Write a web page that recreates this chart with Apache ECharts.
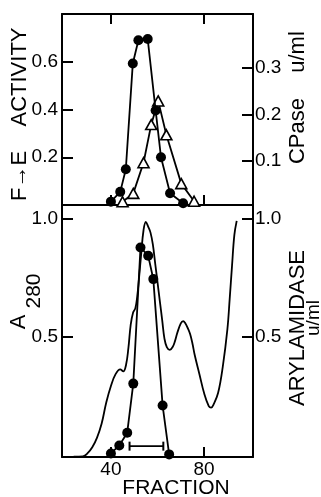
<!DOCTYPE html>
<html>
<head>
<meta charset="utf-8">
<script src="https://cdn.jsdelivr.net/npm/echarts@6/dist/echarts.min.js"></script>
<style>
html,body{margin:0;padding:0;background:#fff;}
#chart{width:321px;height:497px;}
</style>
</head>
<body>
<div id="chart"></div>
<script>
// ---- data ----
const fractionTicks = [40, 80];
const activityTicks = [0.2, 0.4, 0.6];
const cpaseTicks = [0.1, 0.2, 0.3];
const a280Ticks = [0.5, 1.0];
const arylTicks = [0.5, 1.0];

// top panel: F->E activity (filled circles, left axis)
const feActivity = [[40,0.014],[44,0.055],[46.4,0.15],[49.4,0.593],[51.8,0.69],[55.8,0.695],[59.2,0.396],[61.5,0.20],[65.4,0.049],[71,0.007]];
// top panel: CPase u/ml (open triangles, right axis)
const cpase = [[45,0.012],[49.6,0.03],[54,0.096],[57.3,0.178],[60.3,0.229],[63.8,0.156],[70.2,0.051],[75.7,0.013]];
// bottom panel: A280 trace (left axis)
const a280 = [[24,-0.01],[28,-0.008],[30,0.005],[32,0.03],[34,0.07],[36,0.13],[38,0.22],[40,0.29],[42,0.34],[44,0.36],[45.3,0.352],[46.5,0.38],[47.5,0.45],[48.5,0.55],[49.5,0.60],[50.5,0.62],[51.3,0.67],[52,0.74],[53,0.85],[54,0.95],[55,0.985],[56,0.965],[57,0.94],[58,0.89],[59,0.81],[60,0.73],[61,0.65],[62,0.57],[63,0.49],[64,0.455],[65.3,0.443],[66.5,0.455],[67.5,0.48],[68.5,0.515],[70,0.555],[71,0.565],[72,0.555],[73,0.535],[74,0.51],[75,0.47],[76,0.42],[78,0.34],[80,0.26],[82,0.205],[83,0.198],[84,0.21],[86,0.26],[88,0.37],[90,0.53],[91,0.66],[92,0.8],[93,0.93],[94,0.99]];
// bottom panel: arylamidase u/ml (filled circles, right axis)
const arylamidase = [[40,0.004],[43.6,0.038],[47,0.092],[49.6,0.30],[52.7,0.877],[56,0.842],[58.2,0.743],[62.2,0.207],[65,0.0]];
// pooled fractions bracket
const poolRange = [48, 62.5];
const poolLevel = 0.035;

// ---- chart ----
const FONT = 'Liberation Sans, Arial, sans-serif';
const BLACK = '#000';
const X_MIN = 19, X_MAX = 101;

function xAxis(gridIndex, position, showLabels) {
  return {
    type: 'value', gridIndex, position, min: X_MIN, max: X_MAX,
    axisLine: { show: true, onZero: false, lineStyle: { color: BLACK, width: 2 } },
    axisTick: { show: true, inside: true, length: 10, customValues: fractionTicks, lineStyle: { color: BLACK, width: 2 } },
    axisLabel: { show: showLabels, customValues: fractionTicks, margin: 3, color: BLACK, fontSize: 19, fontFamily: FONT },
    splitLine: { show: false }
  };
}
function yAxis(gridIndex, position, min, max, ticks) {
  return {
    type: 'value', gridIndex, position, min, max,
    axisLine: { show: true, onZero: false, lineStyle: { color: BLACK, width: 2 } },
    axisTick: { show: true, inside: true, length: 11, customValues: ticks, lineStyle: { color: BLACK, width: 2 } },
    axisLabel: { show: true, customValues: ticks, margin: position === 'left' ? 4 : 2, color: BLACK, fontSize: 19, fontFamily: FONT,
      formatter: v => v.toFixed(1) },
    splitLine: { show: false }
  };
}
function rotText(text, x, y, size) {
  return { type: 'text', x, y, rotation: Math.PI / 2,
    style: { text, fill: BLACK, fontSize: size, fontFamily: FONT, align: 'center', verticalAlign: 'middle' } };
}

const chart = echarts.init(document.getElementById('chart'));
chart.setOption({
  backgroundColor: '#fff',
  animation: false,
  grid: [
    { left: 62, top: 14, width: 191, height: 191 },
    { left: 62, top: 205, width: 191, height: 252 }
  ],
  xAxis: [
    xAxis(0, 'bottom', false),
    xAxis(0, 'top', false),
    xAxis(1, 'bottom', true)
  ],
  yAxis: [
    yAxis(0, 'left', 0, 0.8, activityTicks),
    yAxis(0, 'right', 0.005, 0.416, cpaseTicks),
    yAxis(1, 'left', -0.011, 1.057, a280Ticks),
    yAxis(1, 'right', -0.011, 1.057, arylTicks)
  ],
  series: [
    { type: 'line', name: 'CPase', xAxisIndex: 0, yAxisIndex: 1, data: cpase, clip: false,
      symbol: 'triangle', symbolSize: [11, 10], lineStyle: { color: BLACK, width: 1.8 },
      itemStyle: { color: '#fff', borderColor: BLACK, borderWidth: 1.6 }, z: 2 },
    { type: 'line', name: 'F→E activity', xAxisIndex: 0, yAxisIndex: 0, data: feActivity, clip: false,
      symbol: 'circle', symbolSize: 10, lineStyle: { color: BLACK, width: 1.8 },
      itemStyle: { color: BLACK }, z: 3 },
    { type: 'line', name: 'A280', xAxisIndex: 2, yAxisIndex: 2, data: a280, smooth: 0.4, showSymbol: false,
      lineStyle: { color: BLACK, width: 1.8 }, z: 2 },
    { type: 'line', name: 'Arylamidase', xAxisIndex: 2, yAxisIndex: 3, data: arylamidase, clip: false,
      symbol: 'circle', symbolSize: 10, lineStyle: { color: BLACK, width: 1.8 },
      itemStyle: { color: BLACK }, z: 3 },
    { type: 'line', name: 'pool', xAxisIndex: 2, yAxisIndex: 2, data: poolRange.map(x => [x, poolLevel]),
      symbol: 'rect', symbolSize: [2, 9], lineStyle: { color: BLACK, width: 1.8 },
      itemStyle: { color: BLACK }, z: 2 }
  ],
  graphic: [
    rotText('F→E', 20, 176, 22),
    rotText('ACTIVITY', 20, 77, 22),
    rotText('CPase', 298, 131, 22),
    rotText('u/ml', 298, 52, 22),
    rotText('A', 19, 322, 22),
    rotText('280', 34, 291, 21),
    rotText('ARYLAMIDASE', 298, 328, 22),
    rotText('u/ml', 314, 318, 19),
    { type: 'text', x: 176, y: 488, style: { text: 'FRACTION', fill: BLACK, fontSize: 21, fontFamily: FONT, align: 'center', verticalAlign: 'middle' } }
  ]
});
</script>
</body>
</html>
